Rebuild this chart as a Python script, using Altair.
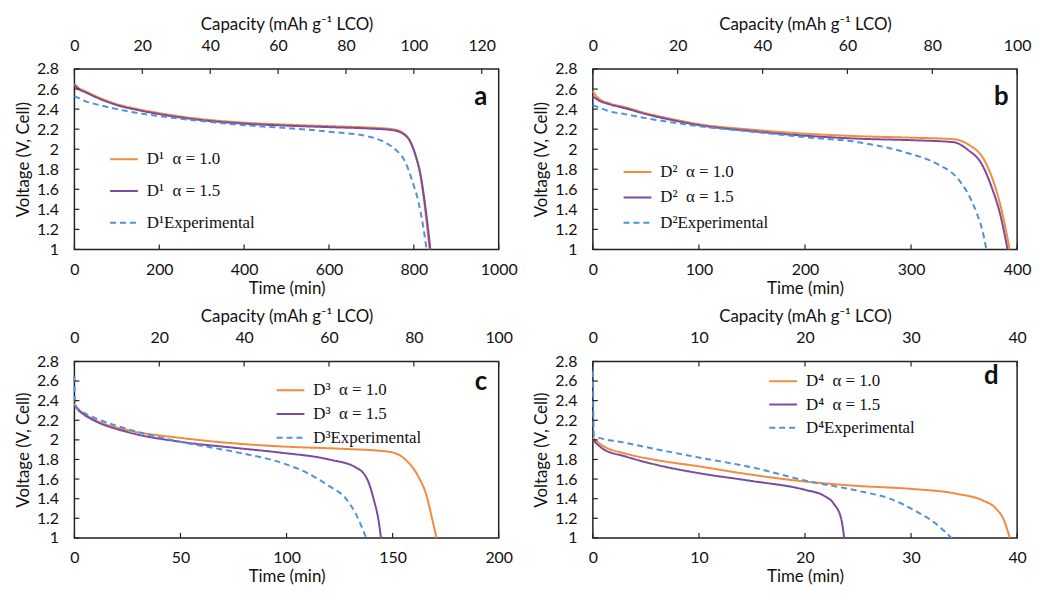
import altair as alt
import pandas as pd

# ---------------- data ----------------
# Panel a
A_T_10 = [0, 10, 25, 50, 100, 150, 200, 300, 400, 500, 600, 700, 750, 775, 790, 803, 815, 826, 837]
A_V_10 = [2.65, 2.61, 2.58, 2.53, 2.45, 2.40, 2.36, 2.30, 2.265, 2.245, 2.23, 2.215, 2.20, 2.16, 2.09, 1.95, 1.75, 1.42, 1.0]
A_T_15 = [0, 10, 25, 50, 100, 150, 200, 300, 400, 500, 600, 700, 750, 776, 791, 804, 816, 828, 839]
A_V_15 = [2.64, 2.60, 2.57, 2.52, 2.44, 2.39, 2.35, 2.29, 2.255, 2.235, 2.22, 2.205, 2.19, 2.15, 2.08, 1.94, 1.74, 1.40, 1.0]
A_T_EXP = [0, 10, 25, 50, 100, 150, 200, 300, 400, 500, 600, 700, 735, 756, 780, 795, 811, 822, 830]
A_V_EXP = [2.53, 2.51, 2.48, 2.45, 2.40, 2.36, 2.33, 2.28, 2.24, 2.21, 2.175, 2.12, 2.06, 2.00, 1.87, 1.70, 1.47, 1.23, 1.0]

# Panel b
B_T_10 = [0, 5, 15, 30, 50, 75, 100, 150, 200, 250, 300, 340, 355, 368, 377.6, 385.4, 393]
B_V_10 = [2.58, 2.51, 2.46, 2.42, 2.36, 2.30, 2.25, 2.195, 2.155, 2.13, 2.115, 2.10, 2.04, 1.91, 1.68, 1.39, 1.0]
B_T_15 = [0, 5, 15, 30, 50, 75, 100, 150, 200, 250, 300, 340, 354, 366.7, 376, 383.8, 391]
B_V_15 = [2.53, 2.49, 2.45, 2.41, 2.35, 2.29, 2.24, 2.18, 2.135, 2.105, 2.09, 2.07, 1.99, 1.85, 1.62, 1.36, 1.0]
B_T_EXP = [0, 5, 15, 30, 50, 100, 150, 200, 250, 294, 325, 343, 354, 362, 367, 371]
B_V_EXP = [2.44, 2.42, 2.38, 2.35, 2.31, 2.23, 2.175, 2.12, 2.07, 1.97, 1.85, 1.72, 1.55, 1.36, 1.20, 1.0]

# Panel c
C_T_10 = [0, 2, 5, 10, 25, 50, 75, 100, 125, 148, 156, 162, 166, 169, 170.7]
C_V_10 = [2.37, 2.31, 2.26, 2.20, 2.10, 2.02, 1.965, 1.93, 1.91, 1.88, 1.80, 1.63, 1.43, 1.16, 1.0]
C_T_15 = [0, 2, 5, 10, 25, 50, 75, 97, 120, 132.6, 138, 141, 143.5, 144.5]
C_V_15 = [2.35, 2.30, 2.25, 2.19, 2.08, 1.98, 1.92, 1.87, 1.80, 1.72, 1.60, 1.40, 1.16, 1.0]
C_T_EXP = [0, 0.3, 2, 5, 10, 25, 50, 75, 97, 109, 120, 128, 133, 137.5]
C_V_EXP = [2.65, 2.36, 2.31, 2.27, 2.22, 2.11, 1.98, 1.88, 1.77, 1.67, 1.53, 1.40, 1.23, 1.0]

# Panel d
D_T_10 = [0, 0.93, 3.1, 6.2, 10, 14, 20, 25, 30, 34.3, 36.8, 38, 38.8, 39.3]
D_V_10 = [2.02, 1.94, 1.86, 1.79, 1.73, 1.66, 1.575, 1.53, 1.50, 1.45, 1.38, 1.30, 1.17, 1.0]
D_T_15 = [0, 0.93, 3.1, 6.2, 10, 15, 20, 21.8, 22.7, 23.4, 23.7]
D_V_15 = [2.00, 1.91, 1.83, 1.74, 1.66, 1.58, 1.49, 1.43, 1.35, 1.20, 1.0]
D_T_EXP = [0, 0.1, 3.1, 6.2, 10, 15, 20, 25, 28, 30.5, 32.4, 33.8]
D_V_EXP = [2.70, 2.04, 1.97, 1.90, 1.82, 1.72, 1.585, 1.48, 1.40, 1.27, 1.14, 1.0]

Y_TICKS = [1.0, 1.2, 1.4, 1.6, 1.8, 2.0, 2.2, 2.4, 2.6, 2.8]
A_TIME_TICKS = [0, 200, 400, 600, 800, 1000]
B_TIME_TICKS = [0, 100, 200, 300, 400]
C_TIME_TICKS = [0, 50, 100, 150, 200]
D_TIME_TICKS = [0, 10, 20, 30, 40]
A_CAP_TICKS = [0, 20, 40, 60, 80, 100, 120]
B_CAP_TICKS = [0, 20, 40, 60, 80, 100]
C_CAP_TICKS = [0, 20, 40, 60, 80, 100]
D_CAP_TICKS = [0, 10, 20, 30, 40]

# ---------------- styling ----------------
ORANGE = "#F58A3D"
PURPLE = "#7A4C9F"
BLUE = "#4F91DC"
FRAME = "#222222"
FONT = "Lato"
LEGEND_FONT = "Liberation Serif"
PANEL_W = 428
SP = "\u00a0\u00a0"


def make_panel(letter, sup, series, t_max, t_ticks, cap_max, cap_ticks, height,
               leg_x, leg_y, leg_gap, letter_x, letter_y):
    names = [f"D{sup}{SP}α = 1.0", f"D{sup}{SP}α = 1.5", f"D{sup}Experimental"]
    frames = []
    for name, (ts, vs) in zip(names, series):
        frames.append(pd.DataFrame({"series": name, "t": ts, "v": vs, "i": list(range(len(ts)))}))
    df = pd.concat(frames, ignore_index=True)

    x_time = alt.X(
        "t:Q",
        scale=alt.Scale(domain=[0, t_max], nice=False, zero=False),
        axis=alt.Axis(orient="bottom", title="Time (min)", values=t_ticks, format="d", ticks=False,
                      domain=False, grid=False, labelFlush=False, labelOverlap=False,
                      labelPadding=12, titlePadding=3),
    )
    y_volt = alt.Y(
        "v:Q",
        scale=alt.Scale(domain=[1, 2.8], nice=False, zero=False),
        axis=alt.Axis(title="Voltage (V, Cell)", values=Y_TICKS, format=".1~f", ticks=False,
                      domain=False, grid=False, labelFlush=False, labelOverlap=False,
                      labelPadding=16, titlePadding=4),
    )
    x_cap = alt.X(
        "c:Q",
        scale=alt.Scale(domain=[0, cap_max], nice=False, zero=False),
        axis=alt.Axis(orient="top", title="Capacity (mAh g⁻¹ LCO)", values=cap_ticks, ticks=False,
                      domain=False, grid=False, labelFlush=False, labelOverlap=False,
                      labelPadding=16, titlePadding=4),
    )

    legend = alt.Legend(
        title=None, orient="none", legendX=leg_x, legendY=leg_y,
        symbolType="stroke", symbolSize=784, symbolStrokeWidth=2,
        clipHeight=16, rowPadding=leg_gap - 16, labelOffset=8,
        labelFont=LEGEND_FONT, labelFontSize=17, labelColor="#111", padding=0,
    )

    lines = alt.Chart(df).mark_line(strokeWidth=2, interpolate="monotone").encode(
        x=x_time,
        y=y_volt,
        color=alt.Color("series:N", scale=alt.Scale(domain=names, range=[ORANGE, PURPLE, BLUE]), legend=legend),
        strokeDash=alt.StrokeDash("series:N", scale=alt.Scale(domain=names, range=[[1, 0], [1, 0], [6, 4]]), legend=legend),
        order="i:Q",
    )

    bottom_ticks = alt.Chart(pd.DataFrame({"t": t_ticks})).mark_rule(color=FRAME, strokeWidth=1.2).encode(
        x=x_time, y=alt.value(height), y2=alt.value(height - 5)
    )
    left_ticks = alt.Chart(pd.DataFrame({"v": Y_TICKS})).mark_rule(color=FRAME, strokeWidth=1.2).encode(
        y=y_volt, x=alt.value(0), x2=alt.value(5)
    )
    label = alt.Chart(pd.DataFrame({"label": [letter]})).mark_text(
        font=FONT, fontSize=26, fontWeight="bold", color="#111", align="center", baseline="middle"
    ).encode(text="label:N", x=alt.value(letter_x), y=alt.value(letter_y))

    top_ticks = alt.Chart(pd.DataFrame({"c": cap_ticks})).mark_rule(color=FRAME, strokeWidth=1.2).encode(
        x=x_cap, y=alt.value(0), y2=alt.value(5)
    )

    return (
        alt.layer(alt.layer(lines, bottom_ticks, left_ticks, label), top_ticks)
        .resolve_scale(x="independent")
        .properties(width=PANEL_W, height=height)
    )


ROW1_H = 182
ROW2_H = 178

pa = make_panel("a", "¹", [(A_T_10, A_V_10), (A_T_15, A_V_15), (A_T_EXP, A_V_EXP)],
                1000, A_TIME_TICKS, 125, A_CAP_TICKS, ROW1_H, 35, 83, 31, 410, 28)
pb = make_panel("b", "²", [(B_T_10, B_V_10), (B_T_15, B_V_15), (B_T_EXP, B_V_EXP)],
                400, B_TIME_TICKS, 100, B_CAP_TICKS, ROW1_H, 30, 96, 24.5, 412, 28)
pc = make_panel("c", "³", [(C_T_10, C_V_10), (C_T_15, C_V_15), (C_T_EXP, C_V_EXP)],
                200, C_TIME_TICKS, 100, C_CAP_TICKS, ROW2_H, 203, 21, 23, 410, 21)
pd_ = make_panel("d", "⁴", [(D_T_10, D_V_10), (D_T_15, D_V_15), (D_T_EXP, D_V_EXP)],
                 40, D_TIME_TICKS, 40, D_CAP_TICKS, ROW2_H, 177, 12, 22.5, 402, 15)

chart = (
    alt.concat(pa, pb, pc, pd_, columns=2, spacing={"row": 113, "column": 95}, bounds="flush")
    .resolve_scale(color="independent", strokeDash="independent")
    .properties(padding={"left": 5, "top": 4, "right": 0, "bottom": 0}, background="white")
    .configure_view(stroke=FRAME, strokeWidth=1.5)
    .configure_axis(labelFont=FONT, labelFontSize=16, titleFont=FONT, titleFontSize=17,
                    titleFontWeight="normal", labelColor="#111", titleColor="#111")
)

chart.save("out.html", embed_options={"renderer": "svg", "actions": False})
